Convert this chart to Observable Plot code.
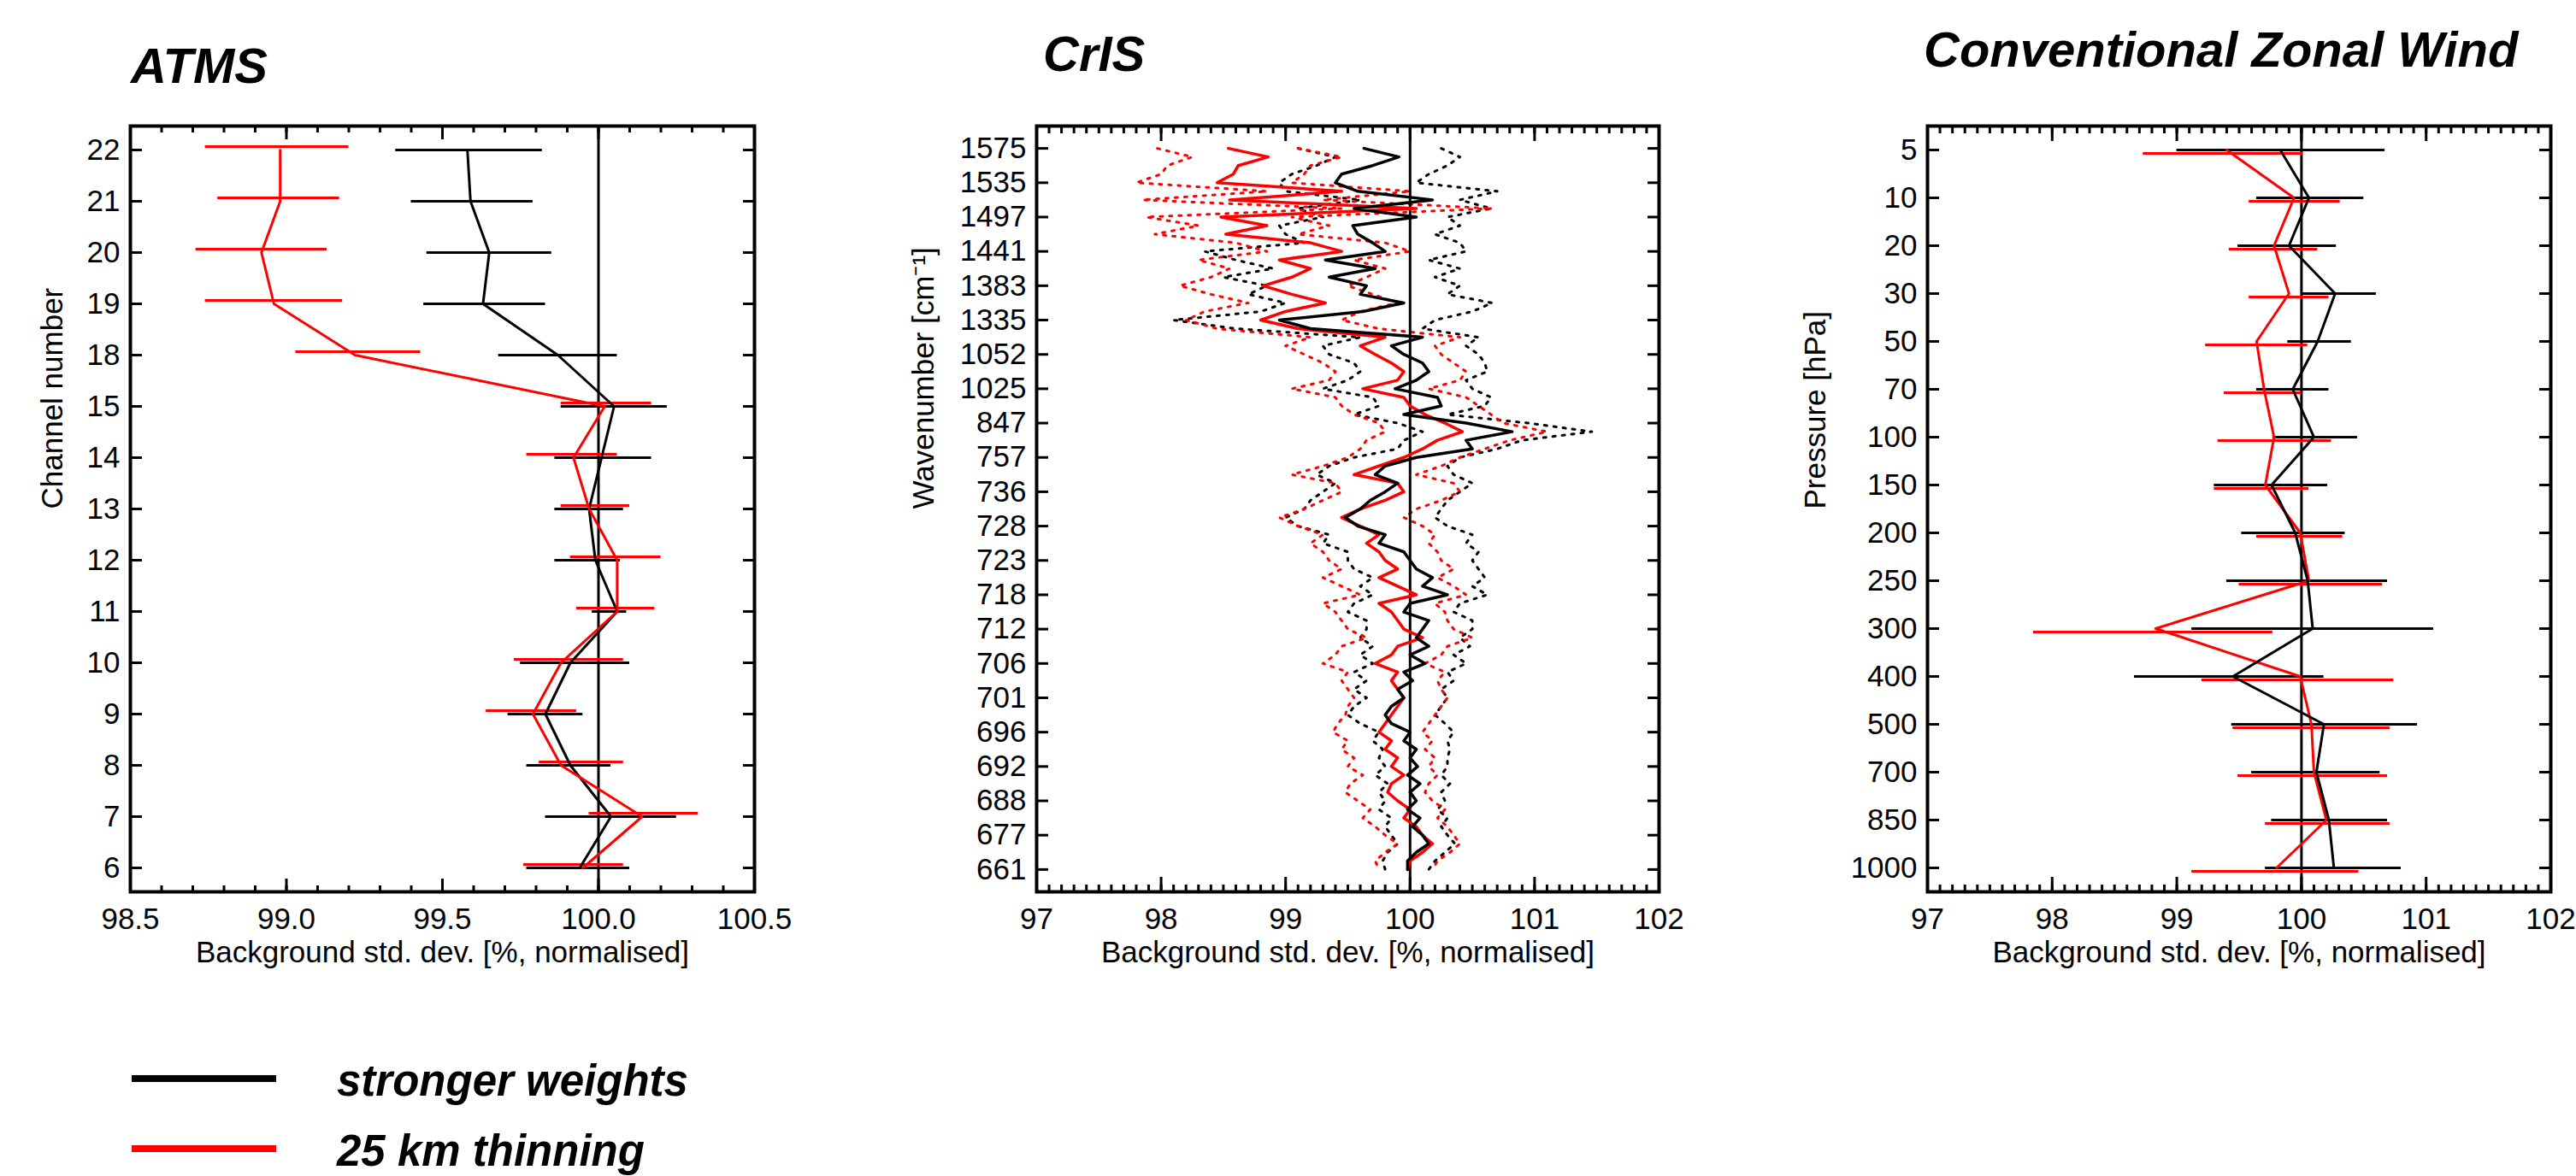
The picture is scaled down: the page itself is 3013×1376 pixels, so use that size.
<!DOCTYPE html>
<html><head><meta charset="utf-8">
<script src="https://cdn.jsdelivr.net/npm/d3@7"></script>
<script src="https://cdn.jsdelivr.net/npm/@observablehq/plot@0.6"></script>
<style>
html,body{margin:0;padding:0;background:#fff;}
#root{position:relative;width:3013px;height:1376px;overflow:hidden;font-family:"Liberation Sans",Arial,Helvetica,sans-serif;color:#000;}
.panel{position:absolute;top:0;}
.title{position:absolute;font-weight:bold;font-style:italic;font-size:58px;line-height:58px;white-space:nowrap;}
.leg-line{position:absolute;height:8px;width:169px;left:154px;}
.leg-text{position:absolute;left:394px;font-weight:bold;font-style:italic;font-size:51px;line-height:51px;white-space:nowrap;}
</style></head><body><div id="root"></div>
<script>
// ---------- ATMS ----------
const atmsChannels = ["22","21","20","19","18","15","14","13","12","11","10","9","8","7","6"];
const atmsStrongMean = [99.58, 99.59, 99.65, 99.63, 99.87, 100.05, 100.01, 99.97, 99.99, 100.06, 99.91, 99.83, 99.91, 100.04, 99.94];
const atmsStrongLo   = [99.35, 99.40, 99.45, 99.44, 99.68, 99.88, 99.86, 99.86, 99.86, 99.98, 99.75, 99.71, 99.77, 99.83, 99.77];
const atmsStrongHi   = [99.82, 99.79, 99.85, 99.83, 100.06, 100.22, 100.17, 100.08, 100.07, 100.09, 100.10, 99.95, 100.04, 100.25, 100.10];
const atmsThinMean   = [98.98, 98.98, 98.92, 98.96, 99.22, 100.02, 99.92, 99.97, 100.06, 100.06, 99.88, 99.79, 99.88, 100.14, 99.95];
const atmsThinLo     = [98.74, 98.78, 98.71, 98.74, 99.03, 99.88, 99.77, 99.88, 99.91, 99.93, 99.73, 99.64, 99.81, 99.97, 99.76];
const atmsThinHi     = [99.20, 99.17, 99.13, 99.18, 99.43, 100.17, 100.06, 100.10, 100.20, 100.18, 100.08, 99.93, 100.08, 100.32, 100.08];

// ---------- CrIS ----------
const crisLabels = ["1575","1535","1497","1441","1383","1335","1052","1025","847","757","736","728","723","718","712","706","701","696","692","688","677","661"];
const crisStrong = [
99.63, 99.91, 99.70, 99.45,
99.40, 99.58, 100.18, 99.55,
100.05, 99.54, 99.58, 99.70,
99.80, 99.32, 99.72, 99.35,
99.65, 99.60, 99.95, 99.62,
98.95, 99.20, 100.10, 99.85,
99.95, 100.10, 100.15, 100.05,
99.88, 100.22, 100.25, 99.95,
100.45, 100.82, 100.45, 100.50,
100.05, 99.80, 99.72, 99.90,
99.80, 99.68, 99.60, 99.48,
99.58, 99.80, 99.75, 99.95,
100.00, 100.05, 100.18, 100.10,
100.30, 100.00, 99.95, 100.15,
100.10, 100.05, 100.15, 100.00,
100.12, 99.95, 100.02, 99.90,
99.95, 99.85, 99.80, 99.85,
100.00, 99.95, 100.05, 100.00,
100.06, 99.98, 100.08, 100.00,
100.05, 99.98, 100.08, 100.02,
100.10, 100.15, 100.05, 99.98,
99.98];
const crisThin = [
98.54, 98.86, 98.62, 98.58,
98.45, 99.45, 98.55, 100.05,
98.48, 98.85, 98.52, 99.20,
99.45, 98.95, 99.20, 99.05,
98.82, 99.05, 99.32, 99.00,
98.80, 99.10, 99.80, 99.60,
99.72, 99.85, 99.95, 99.90,
99.62, 99.95, 100.00, 100.12,
100.28, 100.42, 100.22, 100.10,
99.95, 99.75, 99.55, 99.90,
99.95, 99.80, 99.60, 99.45,
99.60, 99.75, 99.65, 99.75,
99.80, 99.90, 99.75, 99.90,
100.05, 99.75, 99.85, 99.90,
99.95, 100.10, 99.90, 99.85,
99.72, 99.90, 99.85, 99.90,
99.95, 99.90, 99.85, 99.80,
99.75, 99.85, 99.80, 99.90,
99.85, 99.95, 99.85, 99.82,
99.90, 100.00, 99.95, 100.05,
100.10, 100.18, 100.10, 100.00,
99.98];
const crisStrongUpper = [
100.25, 100.40, 100.30, 100.15,
100.05, 100.70, 100.40, 100.65,
100.30, 100.40, 100.20, 100.40,
100.45, 100.15, 100.40, 100.20,
100.40, 100.30, 100.66, 100.50,
100.20, 100.10, 100.55, 100.45,
100.55, 100.60, 100.62, 100.45,
100.50, 100.65, 100.60, 100.30,
100.95, 101.46, 100.90, 100.70,
100.40, 100.30, 100.35, 100.50,
100.40, 100.30, 100.25, 100.20,
100.30, 100.50, 100.45, 100.55,
100.50, 100.55, 100.60, 100.50,
100.62, 100.40, 100.35, 100.50,
100.50, 100.40, 100.48, 100.35,
100.45, 100.30, 100.35, 100.25,
100.30, 100.25, 100.20, 100.28,
100.35, 100.30, 100.32, 100.30,
100.30, 100.25, 100.32, 100.25,
100.28, 100.22, 100.30, 100.25,
100.30, 100.36, 100.28, 100.20,
100.15];
const crisStrongLower = [
99.10, 99.40, 99.25, 99.05,
98.95, 99.00, 99.60, 99.10,
99.30, 98.95, 99.00, 99.15,
98.35, 98.60, 98.90, 98.50,
98.85, 98.70, 99.00, 98.80,
98.10, 98.60, 99.60, 99.30,
99.35, 99.55, 99.60, 99.50,
99.30, 99.70, 99.75, 99.55,
99.90, 100.10, 99.95, 99.90,
99.55, 99.35, 99.25, 99.40,
99.30, 99.20, 99.15, 99.00,
99.10, 99.35, 99.30, 99.50,
99.50, 99.55, 99.70, 99.60,
99.70, 99.55, 99.50, 99.65,
99.65, 99.60, 99.70, 99.60,
99.70, 99.55, 99.65, 99.55,
99.65, 99.55, 99.50, 99.60,
99.75, 99.70, 99.78, 99.75,
99.80, 99.72, 99.82, 99.75,
99.80, 99.75, 99.85, 99.80,
99.85, 99.90, 99.82, 99.78,
99.80];
const crisThinUpper = [
99.10, 99.45, 99.20, 99.15,
99.05, 100.00, 99.30, 100.66,
99.05, 99.35, 99.10, 99.80,
100.00, 99.55, 99.80, 99.65,
99.50, 99.70, 99.90, 99.60,
99.45, 99.75, 100.40, 100.20,
100.25, 100.35, 100.45, 100.40,
100.15, 100.45, 100.55, 100.65,
100.75, 101.10, 100.80, 100.60,
100.40, 100.25, 100.05, 100.35,
100.40, 100.25, 100.05, 99.95,
100.10, 100.20, 100.15, 100.22,
100.25, 100.35, 100.22, 100.35,
100.45, 100.20, 100.28, 100.30,
100.35, 100.50, 100.30, 100.25,
100.12, 100.28, 100.22, 100.25,
100.30, 100.25, 100.20, 100.15,
100.10, 100.18, 100.12, 100.20,
100.15, 100.22, 100.15, 100.12,
100.18, 100.28, 100.22, 100.30,
100.35, 100.40, 100.32, 100.22,
100.18];
const crisThinLower = [
97.97, 98.25, 98.05, 98.00,
97.80, 98.85, 97.85, 99.45,
97.88, 98.30, 97.95, 98.60,
98.85, 98.30, 98.55, 98.40,
98.15, 98.40, 98.70, 98.35,
98.20, 98.45, 99.20, 99.00,
99.15, 99.30, 99.40, 99.35,
99.05, 99.40, 99.45, 99.55,
99.75, 99.80, 99.65, 99.60,
99.50, 99.30, 99.05, 99.40,
99.45, 99.30, 99.15, 98.95,
99.10, 99.30, 99.20, 99.30,
99.35, 99.45, 99.30, 99.45,
99.60, 99.30, 99.40, 99.45,
99.50, 99.65, 99.45, 99.40,
99.30, 99.50, 99.45, 99.50,
99.55, 99.50, 99.48, 99.42,
99.38, 99.50, 99.45, 99.55,
99.50, 99.62, 99.52, 99.48,
99.58, 99.68, 99.62, 99.72,
99.80, 99.90, 99.80, 99.72,
99.75];
const crisStepsPerLabel = 4;

// ---------- Conventional zonal wind ----------
const convLevels = ["5","10","20","30","50","70","100","150","200","250","300","400","500","700","850","1000"];
const convStrongMean = [99.83, 100.06, 99.90, 100.27, 100.13, 99.93, 100.10, 99.76, 99.95, 100.05, 100.09, 99.45, 100.18, 100.12, 100.22, 100.26];
const convStrongLo   = [99.00, 99.64, 99.49, 100.00, 99.89, 99.64, 99.77, 99.30, 99.52, 99.40, 99.12, 98.66, 99.44, 99.60, 99.76, 99.71];
const convStrongHi   = [100.67, 100.50, 100.28, 100.60, 100.40, 100.22, 100.45, 100.21, 100.35, 100.69, 101.06, 100.18, 100.93, 100.63, 100.69, 100.80];
const convThinMean   = [99.40, 99.94, 99.78, 99.90, 99.64, 99.70, 99.78, 99.71, 99.99, 100.06, 98.83, 99.99, 100.08, 100.10, 100.20, 99.80];
const convThinLo     = [98.73, 99.58, 99.42, 99.58, 99.23, 99.38, 99.33, 99.30, 99.64, 99.50, 97.85, 99.20, 99.45, 99.49, 99.71, 99.12];
const convThinHi     = [100.01, 100.31, 100.13, 100.22, 100.05, 100.00, 100.24, 100.06, 100.33, 100.65, 99.77, 100.74, 100.71, 100.69, 100.71, 100.46];

const titles = ["ATMS", "CrIS", "Conventional Zonal Wind"];
const xTitle = "Background std. dev. [%, normalised]";
const yTitles = ["Channel number", "Wavenumber [cm\u207B\u00B9]", "Pressure [hPa]"];
const legendLabels = ["stronger weights", "25 km thinning"];
const legendColors = ["#000000", "#ff0000"];

// ---------- helpers ----------
const FONT = '"Liberation Sans", Arial, Helvetica, sans-serif';
const RED = "#ff0000";
const H = 1160, MT = 147, MB = H - 1043;

function frameAxes({xMinor, xMajor, xMinorLen, xMajorLen, xFormat, yTicks, yFormat, yLen}) {
  const tk = {strokeWidth: 3, fill: "none", label: null, tickFormat: () => ""};
  return [
    Plot.axisX({...tk, anchor: "bottom", ticks: xMinor, tickSize: xMinorLen, dy: -xMinorLen}),
    Plot.axisX({...tk, anchor: "top", ticks: xMinor, tickSize: xMinorLen, dy: xMinorLen}),
    Plot.axisX({...tk, anchor: "bottom", ticks: xMajor, tickSize: xMajorLen, dy: -xMajorLen}),
    Plot.axisX({...tk, anchor: "top", ticks: xMajor, tickSize: xMajorLen, dy: xMajorLen}),
    Plot.axisX({anchor: "bottom", ticks: xMajor, tickSize: 0, tickPadding: 19, tickFormat: xFormat, label: null}),
    Plot.axisY({...tk, anchor: "left", ticks: yTicks, tickSize: yLen, dx: yLen}),
    Plot.axisY({...tk, anchor: "right", ticks: yTicks, tickSize: yLen, dx: -yLen}),
    Plot.axisY({anchor: "left", ticks: yTicks, tickSize: 0, tickPadding: 12, tickFormat: yFormat, label: null})
  ];
}
function titleMarks(yTitle, ydx) {
  return [
    Plot.text([xTitle], {frameAnchor: "bottom", dy: 71, lineAnchor: "middle", fontSize: 35}),
    Plot.text([yTitle], {frameAnchor: "left", dx: ydx, rotate: -90, lineAnchor: "middle", fontSize: 35})
  ];
}
const baseStyle = {fontFamily: FONT, fontSize: "35px", color: "#000", background: "transparent", overflow: "visible"};

const root = document.getElementById("root");
function place(svg, left) {
  const d = document.createElement("div");
  d.className = "panel";
  d.style.left = left + "px";
  d.appendChild(svg);
  root.appendChild(d);
}

// ---------- ATMS panel ----------
const atmsRows = atmsChannels.map((c, i) => ({ch: c, sm: atmsStrongMean[i], slo: atmsStrongLo[i], shi: atmsStrongHi[i],
  tm: atmsThinMean[i], tlo: atmsThinLo[i], thi: atmsThinHi[i]}));
place(Plot.plot({
  width: 1000, height: H, marginLeft: 152, marginRight: 118, marginTop: MT, marginBottom: MB,
  style: baseStyle,
  x: {domain: [98.5, 100.5]},
  y: {type: "point", domain: atmsChannels, padding: 0.43},
  marks: [
    Plot.ruleX([100], {stroke: "black", strokeWidth: 3}),
    Plot.ruleY(atmsRows, {y: "ch", x1: "slo", x2: "shi", stroke: "black", strokeWidth: 3}),
    Plot.ruleY(atmsRows, {y: "ch", x1: "tlo", x2: "thi", stroke: RED, strokeWidth: 3, dy: -4}),
    Plot.line(atmsRows, {x: "sm", y: "ch", stroke: "black", strokeWidth: 3}),
    Plot.line(atmsRows, {x: "tm", y: "ch", stroke: RED, strokeWidth: 3}),
    ...frameAxes({xMinor: d3.range(985, 1006).map(v => v / 10), xMajor: [98.5, 99, 99.5, 100, 100.5],
      xMinorLen: 7, xMajorLen: 15, xFormat: d3.format(".1f"), yTicks: atmsChannels, yFormat: d => d, yLen: 14}),
    ...titleMarks(yTitles[0], -91),
    Plot.frame({stroke: "black", strokeWidth: 4})
  ]
}), 0);

// ---------- CrIS panel ----------
const crisRows = crisStrong.map((v, j) => ({y: j / crisStepsPerLabel, s: v, t: crisThin[j],
  su: crisStrongUpper[j], sl: crisStrongLower[j], tu: crisThinUpper[j], tl: crisThinLower[j]}));
const dotted = {strokeWidth: 3, strokeDasharray: "3,8"};
place(Plot.plot({
  width: 1000, height: H, marginLeft: 212, marginRight: 60, marginTop: MT, marginBottom: MB,
  style: baseStyle,
  x: {domain: [97, 102]},
  y: {domain: [crisLabels.length - 1 + 0.65, -0.65]},
  marks: [
    Plot.line(crisRows, {x: "sl", y: "y", stroke: "black", ...dotted}),
    Plot.line(crisRows, {x: "su", y: "y", stroke: "black", ...dotted}),
    Plot.line(crisRows, {x: "tl", y: "y", stroke: RED, ...dotted}),
    Plot.line(crisRows, {x: "tu", y: "y", stroke: RED, ...dotted}),
    Plot.ruleX([100], {stroke: "black", strokeWidth: 3}),
    Plot.line(crisRows, {x: "t", y: "y", stroke: RED, strokeWidth: 3.5}),
    Plot.line(crisRows, {x: "s", y: "y", stroke: "black", strokeWidth: 3.5}),
    ...frameAxes({xMinor: d3.range(970, 1021).map(v => v / 10), xMajor: [97, 98, 99, 100, 101, 102],
      xMinorLen: 8, xMajorLen: 17, xFormat: d3.format("d"), yTicks: d3.range(crisLabels.length),
      yFormat: i => crisLabels[i], yLen: 14}),
    ...titleMarks(yTitles[1], -132),
    Plot.frame({stroke: "black", strokeWidth: 4})
  ]
}), 1000);

// ---------- Conventional panel ----------
const convRows = convLevels.map((c, i) => ({p: c, sm: convStrongMean[i], slo: convStrongLo[i], shi: convStrongHi[i],
  tm: convThinMean[i], tlo: convThinLo[i], thi: convThinHi[i]}));
place(Plot.plot({
  width: 1013, height: H, marginLeft: 254, marginRight: 30, marginTop: MT, marginBottom: MB,
  style: baseStyle,
  x: {domain: [97, 102]},
  y: {type: "point", domain: convLevels, padding: 0.45},
  marks: [
    Plot.ruleX([100], {stroke: "black", strokeWidth: 3}),
    Plot.ruleY(convRows, {y: "p", x1: "tlo", x2: "thi", stroke: RED, strokeWidth: 3, dy: 4}),
    Plot.ruleY(convRows, {y: "p", x1: "slo", x2: "shi", stroke: "black", strokeWidth: 3}),
    Plot.line(convRows, {x: "tm", y: "p", stroke: RED, strokeWidth: 3}),
    Plot.line(convRows, {x: "sm", y: "p", stroke: "black", strokeWidth: 3}),
    ...frameAxes({xMinor: d3.range(970, 1021).map(v => v / 10), xMajor: [97, 98, 99, 100, 101, 102],
      xMinorLen: 8, xMajorLen: 17, xFormat: d3.format("d"), yTicks: convLevels, yFormat: d => d, yLen: 14}),
    ...titleMarks(yTitles[2], -131),
    Plot.frame({stroke: "black", strokeWidth: 4})
  ]
}), 2000);

// ---------- titles ----------
const titlePos = [[153, 48], [1220, 34], [2250, 29]];
titles.forEach((t, i) => {
  const d = document.createElement("div");
  d.className = "title";
  d.textContent = t;
  d.style.left = titlePos[i][0] + "px";
  d.style.top = titlePos[i][1] + "px";
  root.appendChild(d);
});

// ---------- legend ----------
const legendY = [1262, 1344];
legendLabels.forEach((lab, i) => {
  const l = document.createElement("div");
  l.className = "leg-line";
  l.style.top = (legendY[i] - 4) + "px";
  l.style.background = legendColors[i];
  root.appendChild(l);
  const t = document.createElement("div");
  t.className = "leg-text";
  t.textContent = lab;
  t.style.top = (legendY[i] + 20 - 43) + "px";
  root.appendChild(t);
});
</script>
</body></html>
